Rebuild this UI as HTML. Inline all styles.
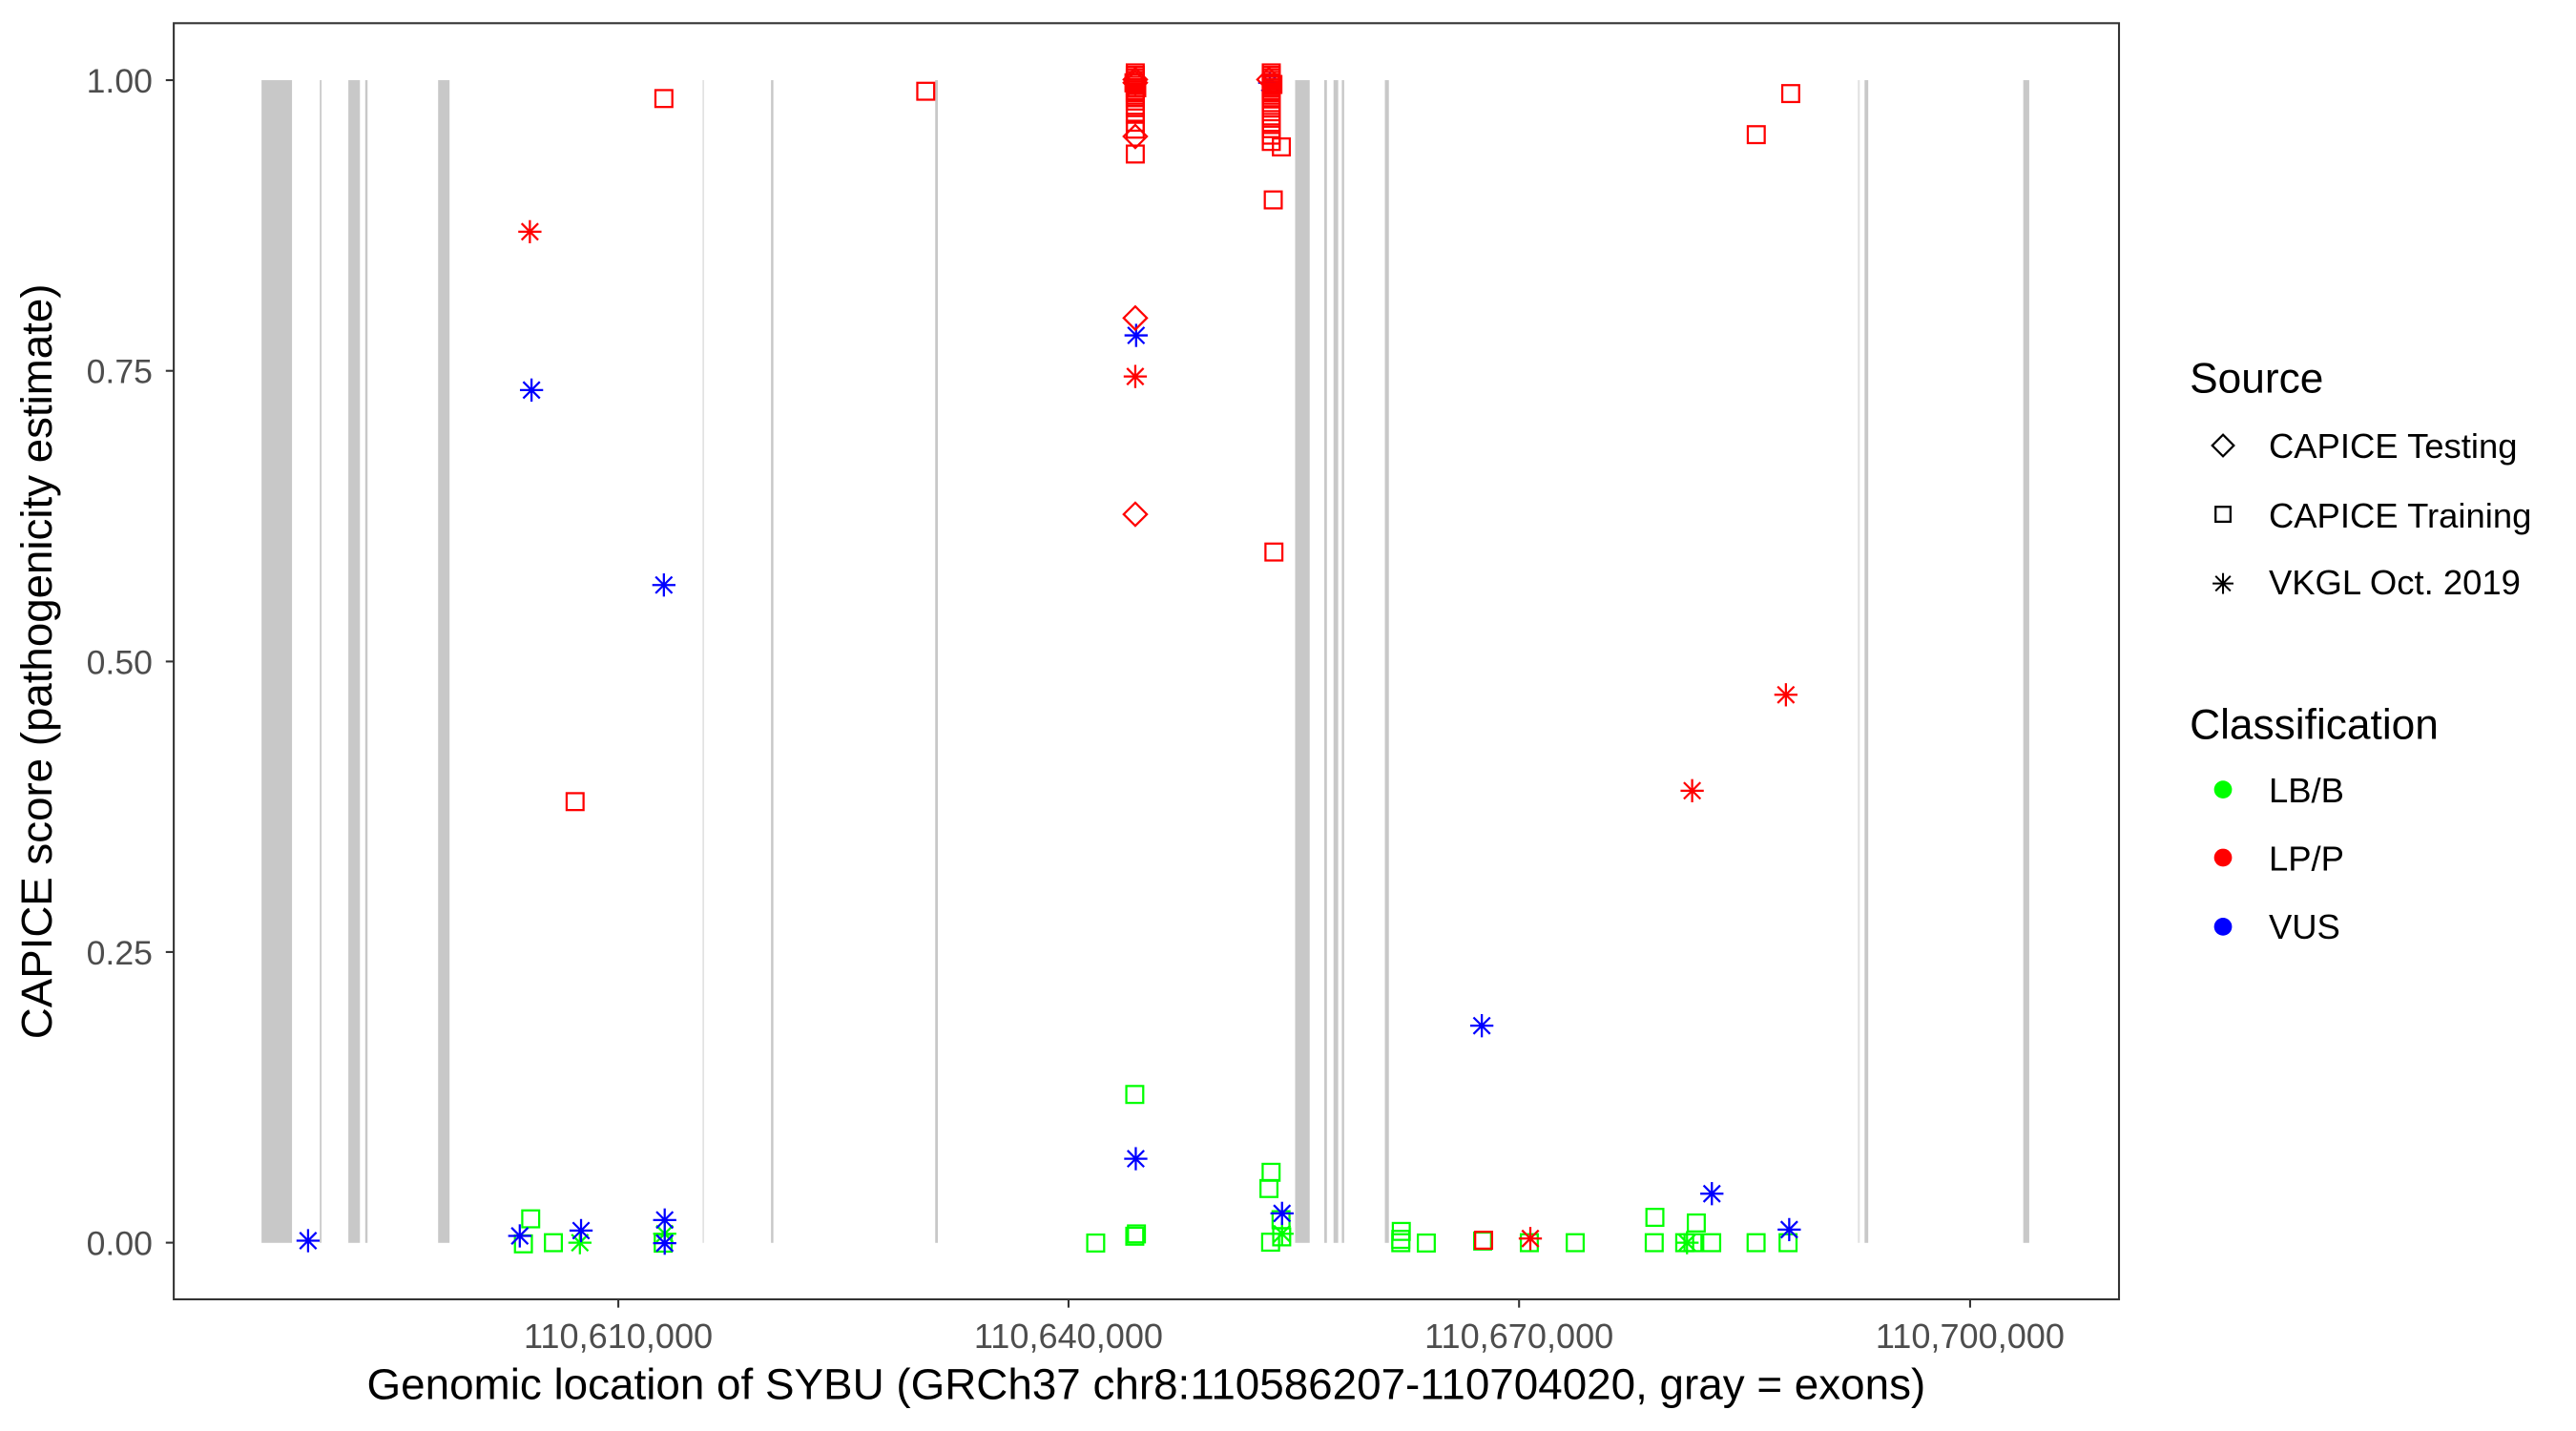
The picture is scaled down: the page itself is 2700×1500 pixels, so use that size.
<!DOCTYPE html>
<html><head><meta charset="utf-8"><style>html,body{margin:0;padding:0;background:#fff}svg{display:block}</style></head>
<body>
<svg xmlns="http://www.w3.org/2000/svg" width="2700" height="1500" viewBox="0 0 1555 864" font-family="Liberation Sans, Arial, sans-serif">
<defs>
<g id="sq"><rect x="-5.1" y="-5.1" width="10.2" height="10.2" fill="none" stroke-width="1.3"/></g>
<g id="st" stroke-width="1.3" stroke-linecap="butt"><line x1="-7" y1="0" x2="7" y2="0"/><line x1="0" y1="-7" x2="0" y2="7"/><line x1="-5" y1="-5" x2="5" y2="5"/><line x1="-5" y1="5" x2="5" y2="-5"/></g>
<g id="di"><polygon points="0,-7 7,0 0,7 -7,0" fill="none" stroke-width="1.3"/></g>
</defs>
<rect width="1555" height="864" fill="#fff"/>
<g fill="#c8c8c8">
<rect x="157.8" y="48.4" width="18.4" height="702"/>
<rect x="193" y="48.4" width="1" height="702"/>
<rect x="210.2" y="48.4" width="7" height="702"/>
<rect x="220.4" y="48.4" width="1.4" height="702"/>
<rect x="264.4" y="48.4" width="6.9" height="702"/>
<rect x="424" y="48.4" width="1" height="702" fill="#e2e2e2"/>
<rect x="465.4" y="48.4" width="1.4" height="702"/>
<rect x="564.5" y="48.4" width="1.6" height="702"/>
<rect x="781.8" y="48.4" width="8.8" height="702"/>
<rect x="799.4" y="48.4" width="1.6" height="702"/>
<rect x="805" y="48.4" width="2.8" height="702"/>
<rect x="810" y="48.4" width="1.4" height="702"/>
<rect x="836" y="48.4" width="2.4" height="702"/>
<rect x="1121.5" y="48.4" width="1.2" height="702" fill="#e2e2e2"/>
<rect x="1125.6" y="48.4" width="2.2" height="702"/>
<rect x="1221.4" y="48.4" width="3.6" height="702"/>
</g>
<g stroke="#00ff00">
<use href="#sq" x="320.3" y="735.9"/><use href="#sq" x="315.9" y="751"/><use href="#sq" x="334" y="750.3"/><use href="#sq" x="400.3" y="750.6"/>
<use href="#sq" x="685" y="660.8"/><use href="#sq" x="685" y="746.4"/><use href="#sq" x="686" y="745"/><use href="#sq" x="661.4" y="750.5"/>
<use href="#sq" x="767.3" y="707.8"/><use href="#sq" x="766" y="717.6"/><use href="#sq" x="773.3" y="736.4"/><use href="#sq" x="773.7" y="746.8"/><use href="#sq" x="767" y="750"/>
<use href="#sq" x="845.6" y="748.3"/><use href="#sq" x="845.9" y="743.5"/><use href="#sq" x="845.6" y="750.3"/><use href="#sq" x="861" y="750.5"/>
<use href="#sq" x="895" y="749.3"/><use href="#sq" x="923.2" y="750.3"/><use href="#sq" x="950.9" y="750.3"/><use href="#sq" x="999" y="735"/><use href="#sq" x="998.6" y="750.3"/>
<use href="#sq" x="1017" y="750.3"/><use href="#sq" x="1022" y="750.3"/><use href="#sq" x="1024" y="738.4"/><use href="#sq" x="1033.3" y="750.3"/><use href="#sq" x="1060.1" y="750.3"/><use href="#sq" x="1079.4" y="750.3"/>
<use href="#st" x="350" y="750.3"/><use href="#st" x="401.2" y="744.9"/><use href="#st" x="773.9" y="744.9"/><use href="#st" x="1018.4" y="750.3"/>
</g>
<g stroke="#0000ff">
<use href="#st" x="185.9" y="749.1"/><use href="#st" x="313.7" y="746.2"/><use href="#st" x="350.7" y="743"/><use href="#st" x="401.2" y="736.6"/><use href="#st" x="401.2" y="750.6"/>
<use href="#st" x="685.6" y="699.6"/><use href="#st" x="773.9" y="732.6"/><use href="#st" x="894.5" y="619.3"/><use href="#st" x="1033.4" y="720.7"/><use href="#st" x="1080.1" y="742.4"/>
<use href="#st" x="320.8" y="235.5"/><use href="#st" x="400.7" y="353.2"/><use href="#st" x="685.8" y="202.5"/><use href="#st" x="766.5" y="50"/>
</g>
<g stroke="#ff0000">
<use href="#st" x="319.8" y="139.9"/><use href="#st" x="685.3" y="227.3"/><use href="#st" x="1021.5" y="477.4"/><use href="#st" x="1078.1" y="419.5"/><use href="#st" x="923.8" y="747.8"/>
<use href="#sq" x="400.7" y="59.5"/><use href="#sq" x="347.1" y="484"/><use href="#sq" x="558.8" y="55.1"/><use href="#sq" x="1060.2" y="81.3"/><use href="#sq" x="1081" y="56.5"/>
<use href="#sq" x="768.6" y="120.7"/><use href="#sq" x="769" y="333.3"/><use href="#sq" x="773.5" y="88.7"/><use href="#sq" x="895.6" y="748.8"/>
<use href="#sq" x="685.3" y="44"/><use href="#sq" x="685.3" y="45.5"/><use href="#sq" x="685.3" y="47"/><use href="#sq" x="685.3" y="48.5"/><use href="#sq" x="685.3" y="50"/><use href="#sq" x="685.3" y="51.5"/><use href="#sq" x="685.3" y="53"/><use href="#sq" x="685.3" y="54.5"/><use href="#sq" x="685.3" y="56"/><use href="#sq" x="685.3" y="57.5"/><use href="#sq" x="685.3" y="59"/><use href="#sq" x="684.5" y="50"/><use href="#sq" x="686.2" y="53"/><use href="#sq" x="685.3" y="61"/><use href="#sq" x="685.3" y="65"/><use href="#sq" x="685.3" y="69"/><use href="#sq" x="685.3" y="73.8"/><use href="#sq" x="685.3" y="78"/><use href="#sq" x="685.3" y="93"/>
<use href="#sq" x="767.4" y="44"/><use href="#sq" x="767.4" y="45.5"/><use href="#sq" x="767.4" y="47"/><use href="#sq" x="767.4" y="48.5"/><use href="#sq" x="767.4" y="50"/><use href="#sq" x="767.4" y="51.5"/><use href="#sq" x="767.4" y="53"/><use href="#sq" x="767.4" y="54.5"/><use href="#sq" x="767.4" y="56"/><use href="#sq" x="767.4" y="57.5"/><use href="#sq" x="767.4" y="59"/><use href="#sq" x="768.4" y="51"/><use href="#sq" x="767.4" y="62"/><use href="#sq" x="767.4" y="65.3"/><use href="#sq" x="767.4" y="70"/><use href="#sq" x="767.4" y="73.9"/><use href="#sq" x="767.4" y="77.7"/><use href="#sq" x="767.4" y="81.6"/><use href="#sq" x="767.4" y="85.4"/>
<use href="#di" x="685.3" y="192"/><use href="#di" x="685.3" y="310.5"/><use href="#di" x="685.3" y="48"/><use href="#di" x="685.3" y="50"/><use href="#di" x="685.3" y="82.4"/><use href="#di" x="766" y="48"/>
</g>
<rect x="104.8" y="14" width="1174.4" height="770.5" fill="none" stroke="#333" stroke-width="1.2"/>
<g stroke="#333" stroke-width="1.2">
<line x1="100" y1="48.4" x2="104.8" y2="48.4"/><line x1="100" y1="223.9" x2="104.8" y2="223.9"/><line x1="100" y1="399.4" x2="104.8" y2="399.4"/><line x1="100" y1="574.8" x2="104.8" y2="574.8"/><line x1="100" y1="750.3" x2="104.8" y2="750.3"/>
<line x1="373.2" y1="784.5" x2="373.2" y2="789.5"/><line x1="645" y1="784.5" x2="645" y2="789.5"/><line x1="917" y1="784.5" x2="917" y2="789.5"/><line x1="1189.3" y1="784.5" x2="1189.3" y2="789.5"/>
</g>
<g fill="#4d4d4d" font-size="20.5" text-anchor="end">
<text x="92" y="55.8">1.00</text><text x="92" y="231.3">0.75</text><text x="92" y="406.8">0.50</text><text x="92" y="582.2">0.25</text><text x="92" y="757.7">0.00</text>
</g>
<g fill="#4d4d4d" font-size="20.8" text-anchor="middle">
<text x="373.2" y="814">110,610,000</text><text x="645" y="814">110,640,000</text><text x="917" y="814">110,670,000</text><text x="1189.3" y="814">110,700,000</text>
</g>
<text x="691.9" y="844.7" font-size="26" text-anchor="middle" textLength="941" lengthAdjust="spacingAndGlyphs">Genomic location of SYBU (GRCh37 chr8:110586207-110704020, gray = exons)</text>
<text transform="translate(31,399.4) rotate(-90)" font-size="26" text-anchor="middle" textLength="456" lengthAdjust="spacingAndGlyphs">CAPICE score (pathogenicity estimate)</text>
<text x="1321.9" y="237" font-size="25.5">Source</text>
<g stroke="#000">
<polygon points="1342,262.5 1348.5,269 1342,275.5 1335.5,269" fill="none" stroke-width="1.3"/>
<rect x="1337.5" y="306" width="9" height="9" fill="none" stroke-width="1.3"/>
<g transform="translate(1342,352.3) scale(0.9)"><use href="#st"/></g>
</g>
<g font-size="21">
<text x="1369.6" y="276.6">CAPICE Testing</text>
<text x="1369.6" y="318.4">CAPICE Training</text>
<text x="1369.6" y="358.9">VKGL Oct. 2019</text>
</g>
<text x="1321.9" y="446" font-size="25.5">Classification</text>
<circle cx="1342" cy="476.7" r="5.4" fill="#00ff00"/>
<circle cx="1342" cy="517.8" r="5.4" fill="#ff0000"/>
<circle cx="1342" cy="559.5" r="5.4" fill="#0000ff"/>
<g font-size="21">
<text x="1369.6" y="484.4">LB/B</text>
<text x="1369.6" y="525.7">LP/P</text>
<text x="1369.6" y="566.7">VUS</text>
</g>
</svg>
</body></html>
